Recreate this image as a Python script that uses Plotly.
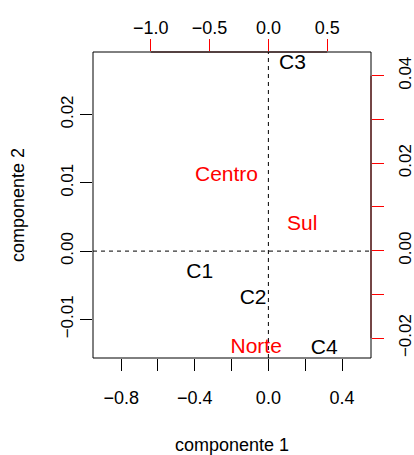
import plotly.graph_objects as go

# Observation scores (component 1, component 2)
obs_labels = ["C1", "C2", "C3", "C4"]
obs_comp1 = [-0.373, -0.083, 0.131, 0.303]
obs_comp2 = [-0.0031, -0.0070, 0.0275, -0.0143]

# Variable loadings (secondary axes)
var_labels = ["Norte", "Centro", "Sul"]
var_comp1 = [-0.104, -0.356, 0.288]
var_comp2 = [-0.0223, 0.0172, 0.0060]

# Axis ticks
x1_ticks = [-0.8, -0.6, -0.4, -0.2, 0.0, 0.2, 0.4]
x1_text = ["\u22120.8", "", "\u22120.4", "", "0.0", "", "0.4"]
y1_ticks = [-0.01, 0.0, 0.01, 0.02]
y1_text = ["\u22120.01", "0.00", "0.01", "0.02"]
x2_ticks = [-1.0, -0.5, 0.0, 0.5]
x2_text = ["\u22121.0", "\u22120.5", "0.0", "0.5"]
y2_ticks = [-0.02, -0.01, 0.0, 0.01, 0.02, 0.03, 0.04]
y2_text = ["\u22120.02", "", "0.00", "", "0.02", "", "0.04"]

FONT = "Liberation Sans, Arial, sans-serif"
FS_X = 18      # horizontal tick labels
FS_Y = 17      # rotated tick labels
FS_T = 18      # axis titles
FS_L = 21      # point / variable labels

fig = go.Figure()
fig.add_trace(go.Scatter(
    x=obs_comp1, y=obs_comp2, text=obs_labels, mode="text",
    textfont=dict(family=FONT, size=FS_L, color="black"),
    xaxis="x", yaxis="y", showlegend=False, hoverinfo="skip"))
fig.add_trace(go.Scatter(
    x=var_comp1, y=var_comp2, text=var_labels, mode="text",
    textfont=dict(family=FONT, size=FS_L, color="red"),
    xaxis="x2", yaxis="y2", showlegend=False, hoverinfo="skip"))

common = dict(showgrid=False, zeroline=False, ticks="outside", ticklen=12,
              tickwidth=1, showline=False, automargin=False)
fx = dict(family=FONT, size=FS_X, color="black")
fy = dict(family=FONT, size=FS_Y, color="black")

fig.update_layout(
    template="none",
    width=414, height=455,
    margin=dict(l=93, r=43, t=52, b=97, pad=0),
    paper_bgcolor="white", plot_bgcolor="white",
    font=dict(family=FONT, size=FS_T, color="black"),
    xaxis=dict(range=[-0.953, 0.5575], tickvals=x1_ticks, ticktext=x1_text,
               tickcolor="black", ticklabelstandoff=11, tickfont=fx, **common),
    yaxis=dict(range=[-0.01565, 0.02915], tickvals=y1_ticks, ticktext=y1_text,
               tickangle=-90, tickcolor="black", ticklabelstandoff=0,
               tickfont=fy, **common),
    xaxis2=dict(range=[-1.491, 0.872], tickvals=x2_ticks, ticktext=x2_text,
                overlaying="x", side="top", anchor="y", tickcolor="red",
                ticklabelstandoff=-2, tickfont=fx, **common),
    yaxis2=dict(range=[-0.02454, 0.04544], tickvals=y2_ticks, ticktext=y2_text,
                overlaying="y", side="right", anchor="x", tickangle=-90,
                tickcolor="red", ticklabelstandoff=7, tickfont=fy, **common),
    shapes=[
        dict(type="line", xref="x", yref="paper", x0=0, x1=0, y0=0, y1=1,
             line=dict(color="black", width=1, dash="4px,4px")),
        dict(type="line", xref="paper", yref="y", x0=0, x1=1, y0=0, y1=0,
             line=dict(color="black", width=1, dash="4px,4px")),
        dict(type="rect", xref="paper", yref="paper", x0=0, x1=1, y0=0, y1=1,
             line=dict(color="black", width=1), fillcolor="rgba(0,0,0,0)"),
        dict(type="line", xref="x2", yref="paper", x0=-1.0, x1=0.5, y0=1, y1=1,
             line=dict(color="#2a0505", width=1)),
        dict(type="line", xref="paper", yref="y2", x0=1, x1=1, y0=-0.02, y1=0.04,
             line=dict(color="#6a0d0d", width=1)),
    ],
    annotations=[
        dict(text="componente 1", xref="paper", yref="paper", x=0.5, y=0,
             yshift=-87, showarrow=False, font=dict(family=FONT, size=FS_T),
             xanchor="center", yanchor="middle"),
        dict(text="componente 2", xref="paper", yref="paper", x=0, y=0.5,
             xshift=-75, showarrow=False, textangle=-90,
             font=dict(family=FONT, size=FS_T), xanchor="center", yanchor="middle"),
    ],
)

fig.write_html(
    "out.html",
    config={"displayModeBar": False},
    post_script="document.body.style.margin='0';document.body.style.padding='0';document.body.style.overflow='hidden';",
)
